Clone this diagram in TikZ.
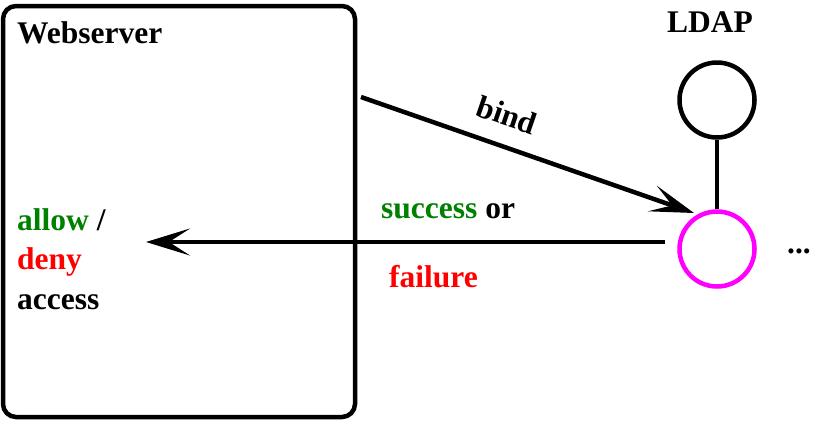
\documentclass[tikz,border=0pt]{standalone}
\usepackage{fontspec}
\setmainfont{Liberation Serif}
\usetikzlibrary{arrows.meta}
\definecolor{okgreen}{RGB}{0,128,0}
\definecolor{nored}{RGB}{255,0,0}
\definecolor{mag}{RGB}{255,0,255}
\tikzset{
  lbl/.style={anchor=base west, inner sep=0pt, font=\fontsize{31.5}{40}\selectfont\bfseries},
  arr/.style={line width=4.5pt, -{Stealth[length=44pt, width=27pt, inset=21pt]}},
  ring/.style={circle, draw, line width=4.5pt, minimum size=75pt, inner sep=0pt},
}
\begin{document}
\begin{tikzpicture}[x=1pt,y=1pt]
\useasboundingbox (0,0) rectangle (813,-421);
\node[draw, line width=4.5pt, rounded corners=13pt, minimum width=352pt, minimum height=411pt, inner sep=0pt] (web) at (179,-211.5) {};
\node[lbl] (webt) at (17,-43) {Webserver};
\node[lbl] (allow) at (17,-230) {\textcolor{okgreen}{allow} /};
\node[lbl, text=nored] (deny) at (17,-269) {deny};
\node[lbl] (access) at (17,-309) {access};
\node[lbl] (ldapt) at (667,-32) {LDAP};
\node[ring] (ldap1) at (717,-100) {};
\node[ring, draw=mag] (ldap2) at (717,-249) {};
\node[lbl] (dots) at (787,-253) {...};
\draw[line width=4.5pt] (ldap1) -- (ldap2);
\coordinate (bs) at (361,-97);
\coordinate (be) at (694,-213);
\draw[arr] (bs) -- (be);
\node[inner sep=0pt, rotate=-19, font=\fontsize{31.5}{40}\selectfont\bfseries] (bind) at (507,-115) {bind};
\coordinate (re) at (146,-242);
\draw[arr, shorten <=12pt] (ldap2.west |- 0,-242) -- (re);
\node[lbl] (succ) at (381,-218) {\textcolor{okgreen}{success} or};
\node[lbl, text=nored] (fail) at (389,-287) {failure};
\end{tikzpicture}
\end{document}
